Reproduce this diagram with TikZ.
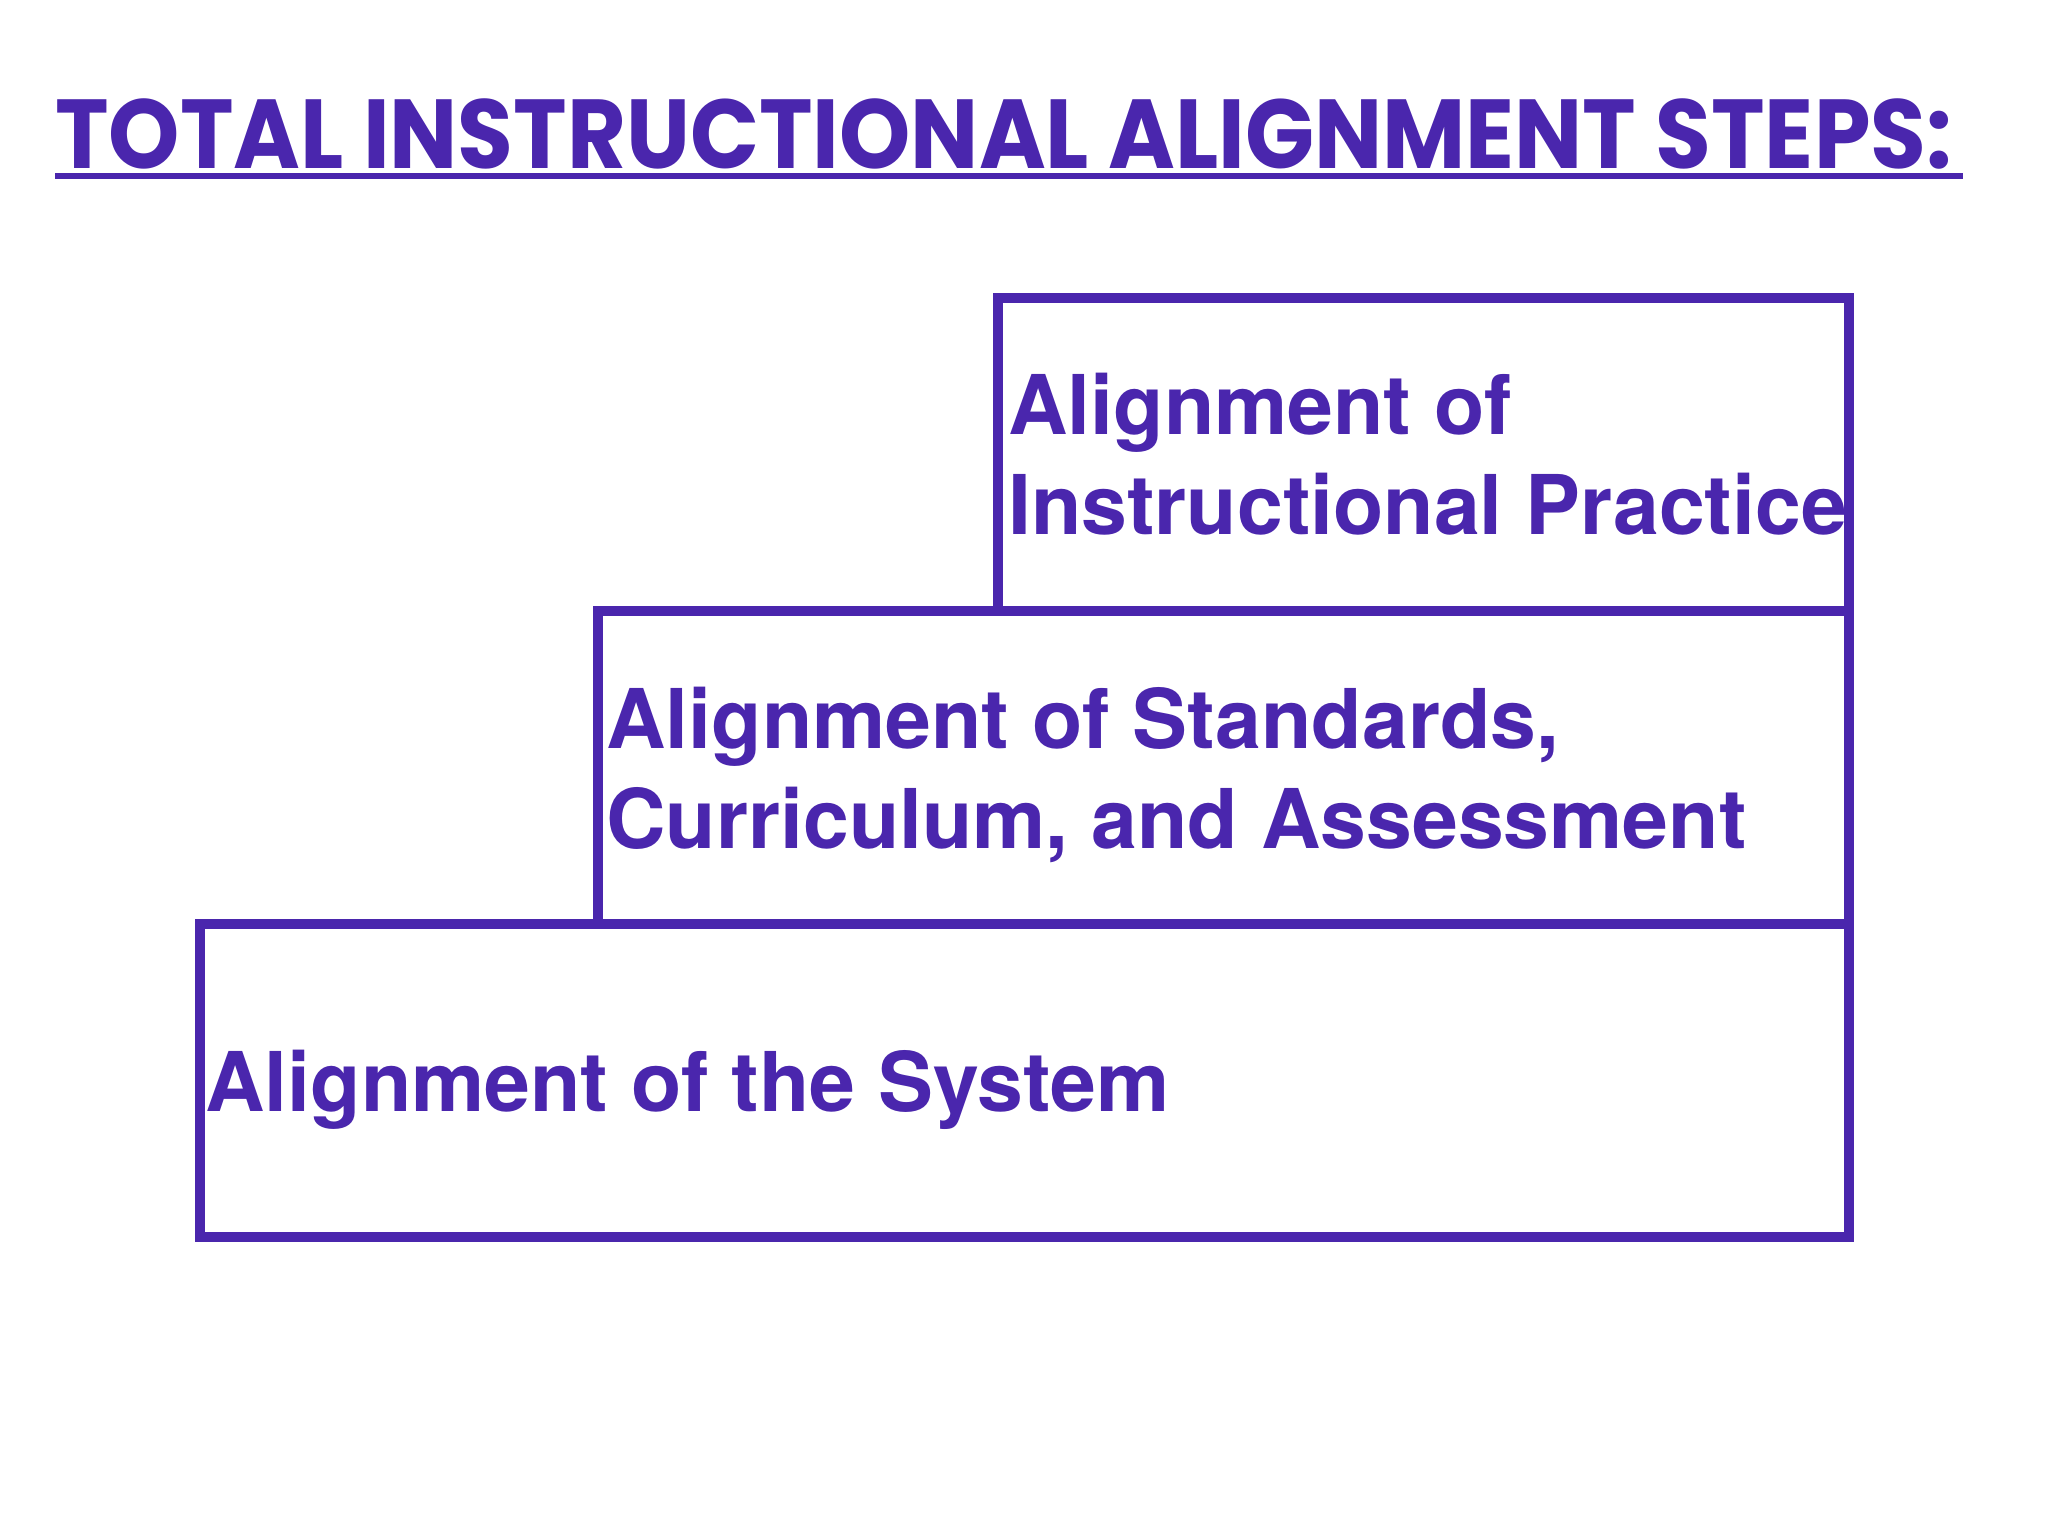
\documentclass[tikz,border=0pt]{standalone}
\usepackage{fontspec}
\setmainfont{TeX Gyre Heros}
\newfontfamily\titlefont{Poppins}
\usetikzlibrary{positioning}
\definecolor{alignpurple}{HTML}{4A26AD}

\begin{document}
\begin{tikzpicture}[
x=0.5pt,
y=-0.5pt,
step box/.style={
	draw=alignpurple,
	line width=4.6pt,
	rectangle,
	outer sep=0pt,
	inner sep=0pt,
	minimum height=156.5pt
},
step text/.style={
	anchor=west,
	align=left,
	inner sep=0pt,
	text=alignpurple,
	font=\bfseries\fontsize{41.2}{50}\selectfont
},
heading/.style={
	text=alignpurple,
	inner sep=0pt,
	font=\titlefont\bfseries\fontsize{49}{50}\selectfont
}
]
\useasboundingbox[fill=white] (0,0) rectangle (2048,1536);

\node[heading,anchor=base west] (title) at (55,168) {\scalebox{0.925}[1]{TOTAL INSTRUCTIONAL ALIGNMENT STEPS:}};
\coordinate (ul1) at (55,176);
\coordinate (ul2) at (1963,176);
\draw[alignpurple,line width=2.6pt] (ul1) -- (ul2);

\node[step box,anchor=north east,minimum width=425.5pt] (practice) at (1849,298) {};
\node[step box,anchor=north east,minimum width=625.5pt] (standards) at (practice.south east) {};
\node[step box,anchor=north east,minimum width=824.5pt] (system) at (standards.south east) {};

\node[step text,right=5pt of practice.west] (practice text) {Alignment of\\Instructional Practice};
\node[step text,right=4pt of standards.west,yshift=-3.5pt] (standards text) {Alignment of Standards,\\Curriculum, and Assessment};
\node[step text,right=2.5pt of system.west,yshift=-4.5pt] (system text) {Alignment of the System};
\end{tikzpicture}
\end{document}
